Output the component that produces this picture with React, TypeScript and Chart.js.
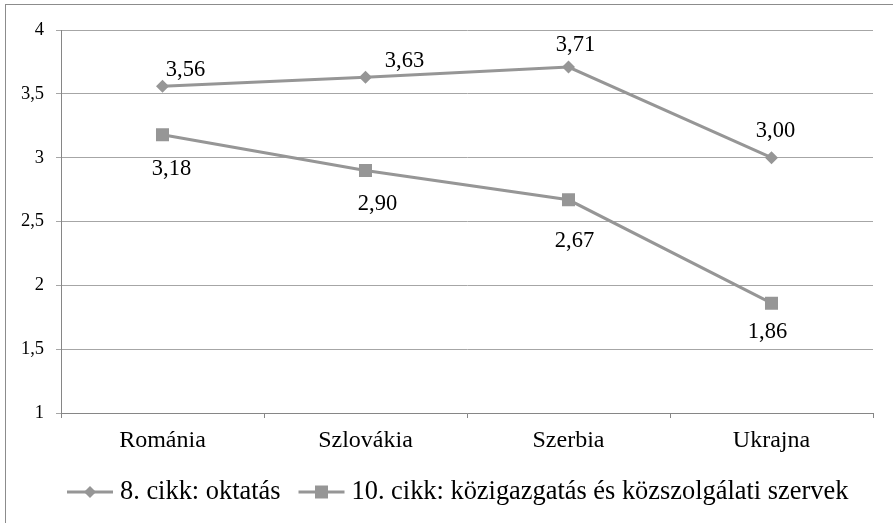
import React, { useEffect, useRef } from "react";
import { Chart, registerables } from "chart.js";

Chart.register(...registerables);

const categories = ["Románia", "Szlovákia", "Szerbia", "Ukrajna"];
const series1Label = "8. cikk: oktatás";
const series1Values = [3.56, 3.63, 3.71, 3.0];
const series2Label = "10. cikk: közigazgatás és közszolgálati szervek";
const series2Values = [3.18, 2.9, 2.67, 1.86];
const yMin = 1;
const yMax = 4;
const yStep = 0.5;

const SERIF = '"Liberation Serif", "Times New Roman", serif';
const LINE_COLOR = "#969696";

// label offsets (dx, dy) relative to each point, per dataset
const labelOffsets = [
  [[23, -16], [39, -16], [7, -22], [4, -27]],
  [[9, 34], [12, 34], [6, 41], [-4, 29]],
];

const fmt = (v: number) => v.toFixed(2).replace(".", ",");

const framePlugin = {
  id: "frame",
  beforeDraw(chart: any) {
    const ctx = chart.ctx;
    ctx.save();
    ctx.strokeStyle = "#8c8c8c";
    ctx.lineWidth = 1;
    ctx.strokeRect(5.5, 4.5, chart.width + 20, chart.height + 20);
    ctx.restore();
  },
};

const dataLabelPlugin = {
  id: "dataLabels",
  afterDatasetsDraw(chart: any) {
    const ctx = chart.ctx;
    ctx.save();
    ctx.font = `22.5px ${SERIF}`;
    ctx.fillStyle = "#000";
    ctx.textAlign = "center";
    ctx.textBaseline = "middle";
    chart.data.datasets.forEach((ds: any, di: number) => {
      const meta = chart.getDatasetMeta(di);
      meta.data.forEach((pt: any, i: number) => {
        const off = labelOffsets[di][i];
        ctx.fillText(fmt(ds.data[i]), pt.x + off[0], pt.y + off[1]);
      });
    });
    ctx.restore();
  },
};

function drawMarker(ctx: CanvasRenderingContext2D, style: string, x: number, y: number) {
  ctx.fillStyle = LINE_COLOR;
  ctx.beginPath();
  if (style === "rectRot") {
    const r = 6;
    ctx.moveTo(x, y - r);
    ctx.lineTo(x + r, y);
    ctx.lineTo(x, y + r);
    ctx.lineTo(x - r, y);
    ctx.closePath();
  } else {
    const s = 6.5;
    ctx.rect(x - s, y - s, 2 * s, 2 * s);
  }
  ctx.fill();
}

const legendPlugin = {
  id: "customLegend",
  afterDraw(chart: any) {
    const ctx = chart.ctx;
    ctx.save();
    ctx.font = `26.4px ${SERIF}`;
    ctx.textBaseline = "middle";
    ctx.textAlign = "left";
    const y = 492;
    const lineLen = 46;
    const textGap = 7;
    const itemGap = 18;
    let x = 67;
    chart.data.datasets.forEach((ds: any) => {
      ctx.strokeStyle = LINE_COLOR;
      ctx.lineWidth = 3;
      ctx.beginPath();
      ctx.moveTo(x, y);
      ctx.lineTo(x + lineLen, y);
      ctx.stroke();
      drawMarker(ctx, ds.pointStyle, x + lineLen / 2, y);
      ctx.fillStyle = "#000";
      ctx.fillText(ds.label, x + lineLen + textGap, y);
      x += lineLen + textGap + ctx.measureText(ds.label).width + itemGap;
    });
    ctx.restore();
  },
};

export default function App() {
  const canvasRef = useRef<HTMLCanvasElement | null>(null);

  useEffect(() => {
    const canvas = canvasRef.current;
    if (!canvas) return;
    const chart = new Chart(canvas, {
      type: "line",
      data: {
        labels: categories,
        datasets: [
          {
            label: series1Label,
            data: series1Values,
            borderColor: LINE_COLOR,
            backgroundColor: LINE_COLOR,
            borderWidth: 3,
            pointStyle: "rectRot",
            pointRadius: 6.5,
            pointBorderWidth: 0,
            tension: 0,
          },
          {
            label: series2Label,
            data: series2Values,
            borderColor: LINE_COLOR,
            backgroundColor: LINE_COLOR,
            borderWidth: 3,
            pointStyle: "rect",
            pointRadius: 9.2,
            pointBorderWidth: 0,
            tension: 0,
          },
        ],
      },
      options: {
        responsive: false,
        animation: false,
        layout: { padding: { top: 30, right: 20, left: 0, bottom: 0 } },
        plugins: {
          legend: { display: false },
          tooltip: { enabled: false },
        },
        scales: {
          x: {
            offset: true,
            grid: {
              offset: true,
              drawOnChartArea: false,
              drawTicks: true,
              tickLength: 5,
              color: "#868686",
            },
            border: { color: "#868686", width: 1 },
            ticks: {
              color: "#000",
              font: { family: SERIF, size: 24 },
              padding: 8,
              maxRotation: 0,
              autoSkip: false,
            },
            afterFit(scale: any) {
              scale.height = 110;
            },
          },
          y: {
            min: yMin,
            max: yMax,
            ticks: {
              stepSize: yStep,
              color: "#000",
              font: { family: SERIF, size: 18.5 },
              padding: 12,
              callback: (v: any) => String(v).replace(".", ","),
            },
            grid: {
              color: "#a6a6a6",
              tickLength: 5,
              drawTicks: true,
            },
            border: { color: "#868686", width: 1 },
            afterFit(scale: any) {
              scale.width = 61;
            },
          },
        },
      },
      plugins: [framePlugin, dataLabelPlugin, legendPlugin],
    });
    return () => chart.destroy();
  }, []);

  return (
    <div style={{ position: "absolute", left: 0, top: 0, width: 893, height: 523, background: "#fff" }}>
      <canvas ref={canvasRef} width={893} height={523} />
    </div>
  );
}
